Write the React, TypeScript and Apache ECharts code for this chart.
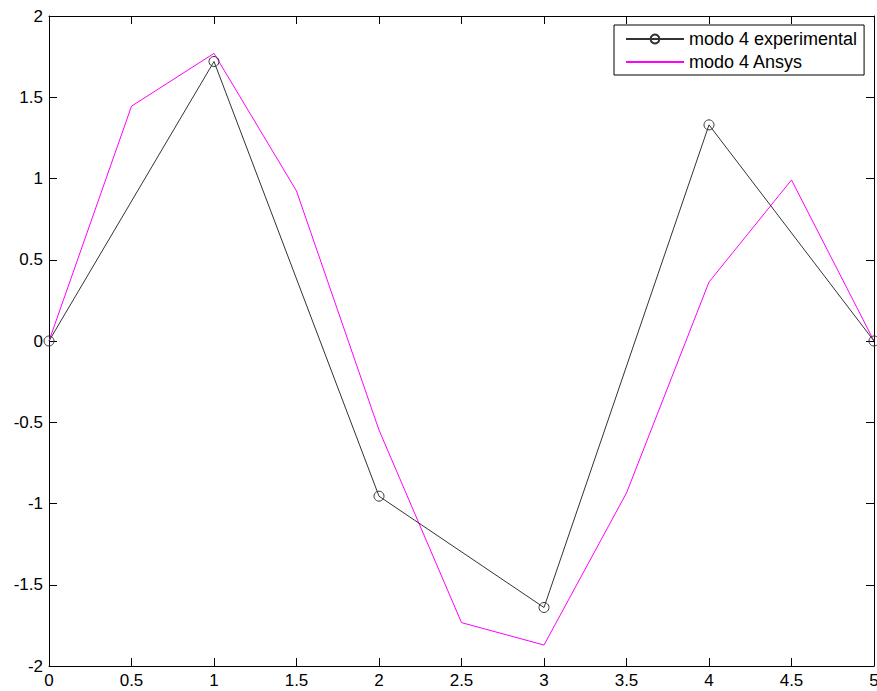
import React, { useEffect, useRef } from "react";
import * as echarts from "echarts";

// Mode shape 4: measured points (every 1.0) and FE model (every 0.5)
const expX = [0, 1, 2, 3, 4, 5];
const expY = [0, 1.72, -0.955, -1.64, 1.33, 0];
const ansysX = [0, 0.5, 1, 1.5, 2, 2.5, 3, 3.5, 4, 4.5, 5];
const ansysY = [0, 1.445, 1.77, 0.923, -0.548, -1.733, -1.871, -0.935, 0.363, 0.991, 0];

const seriesNames = ["modo 4 experimental", "modo 4 Ansys"];
const FONT = "'Liberation Sans', Arial, sans-serif";

export default function App() {
  const ref = useRef<HTMLDivElement>(null);

  useEffect(() => {
    document.body.style.margin = "0";
    const chart = echarts.init(ref.current!, null, { renderer: "svg" });
    const axisLine = { show: true, onZero: false, lineStyle: { color: "#000", width: 1 } };
    const tick = { show: true, inside: true, length: 8, lineStyle: { color: "#000" } };
    const label = { color: "#000", fontFamily: FONT, fontSize: 17, margin: 6 };
    chart.setOption({
      animation: false,
      backgroundColor: "#fff",
      grid: { left: 49, top: 16, right: 3, bottom: 25, outerBoundsMode: "none", containLabel: false },
      legend: {
        orient: "vertical",
        left: 614,
        top: 25,
        padding: [5, 7, 4, 11],
        itemGap: 5,
        itemWidth: 58,
        itemHeight: 11,
        borderColor: "#000",
        borderWidth: 1,
        backgroundColor: "#fff",
        textStyle: { fontFamily: FONT, fontSize: 18, color: "#000", lineHeight: 18 },
        data: [
          { name: seriesNames[0] },
          { name: seriesNames[1], itemStyle: { opacity: 0 } },
        ],
      },
      xAxis: [
        {
          type: "value",
          min: 0,
          max: 5,
          interval: 0.5,
          axisLine,
          axisTick: tick,
          splitLine: { show: false },
          axisLabel: label,
        },
        {
          type: "value",
          position: "top",
          min: 0,
          max: 5,
          interval: 0.5,
          axisLine,
          axisTick: tick,
          splitLine: { show: false },
          axisLabel: { show: false },
        },
      ],
      yAxis: [
        {
          type: "value",
          min: -2,
          max: 2,
          interval: 0.5,
          axisLine,
          axisTick: tick,
          splitLine: { show: false },
          axisLabel: label,
        },
        {
          type: "value",
          position: "right",
          min: -2,
          max: 2,
          interval: 0.5,
          axisLine,
          axisTick: tick,
          splitLine: { show: false },
          axisLabel: { show: false },
        },
      ],
      series: [
        {
          name: seriesNames[0],
          type: "line",
          data: expX.map((x, i) => [x, expY[i]]),
          symbol: "circle",
          symbolSize: 10,
          showSymbol: true,
          lineStyle: { color: "#333", width: 1 },
          itemStyle: { color: "rgba(255,255,255,0)", borderColor: "#333", borderWidth: 1 },
          clip: false,
          z: 3,
        },
        {
          name: seriesNames[1],
          type: "line",
          data: ansysX.map((x, i) => [x, ansysY[i]]),
          symbol: "none",
          lineStyle: { color: "#ff00ff", width: 1 },
          itemStyle: { color: "#ff00ff" },
          clip: false,
          z: 2,
        },
      ],
    });
    return () => chart.dispose();
  }, []);

  return <div ref={ref} style={{ width: 877, height: 691 }} />;
}
